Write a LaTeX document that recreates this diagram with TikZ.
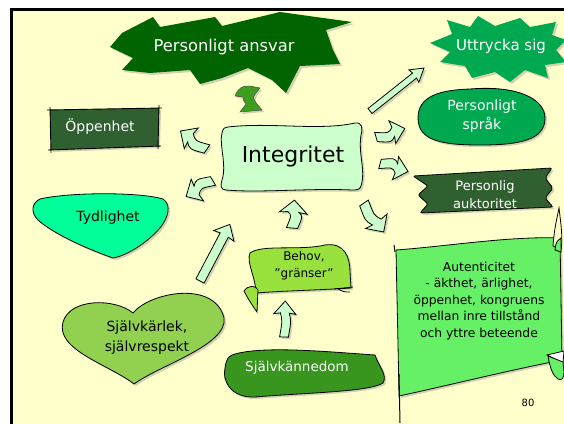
\documentclass[tikz,border=0pt]{standalone}
\usepackage{fontspec}
\setmainfont{DejaVu Sans}
\usetikzlibrary{shadows,arrows.meta}
\definecolor{slideBg}{RGB}{255,255,204}
\definecolor{ansvarGreen}{RGB}{0,100,0}
\definecolor{mossGreen}{RGB}{48,96,48}
\definecolor{jadeGreen}{RGB}{0,168,80}
\definecolor{mintFill}{RGB}{204,255,204}
\definecolor{springGreen}{RGB}{0,255,153}
\definecolor{heartGreen}{RGB}{146,208,80}
\definecolor{limeGreen}{RGB}{153,226,62}
\definecolor{grassGreen}{RGB}{56,150,30}
\definecolor{flagGreen}{RGB}{102,240,102}
\definecolor{cycleGreen}{RGB}{60,160,30}

\begin{document}
\begin{tikzpicture}[x=1pt,y=-1pt,
  shade35/.style={drop shadow={opacity=0.35,shadow xshift=2pt,shadow yshift=-2pt}},
  blob/.style={draw=black,line width=0.8pt,shade35},
  lbl/.style 2 args={align=center,inner sep=0pt,font=\fontsize{#1}{#2}\selectfont},
  arrowshape/.style={fill=mintFill,draw=black,line width=0.8pt,shade35},
  pics/blockarr/.style 2 args={code={
    \path[arrowshape] (0,-4) .. controls ({0.45*#1},{-4+(#2)}) .. ({#1-12},-4) -- ({#1-13},-10) -- (#1,0)
      -- ({#1-13},10) -- ({#1-12},4) .. controls ({0.45*#1},{4+(#2)}) .. (0,4) -- cycle;
  }}]
\clip (0,0) rectangle (564,423);
\fill[white] (0,0) rectangle (564,423);
\draw[line width=3pt,fill=slideBg] (11.5,9.5) rectangle (620,470);

% Personligt ansvar - stjärna överst
\path[fill=ansvarGreen,shade35] (110,47) -- (122,33) -- (153,17) -- (160,27) -- (215,17) -- (222,26) -- (280,12)
  -- (352,22) -- (326,30) -- (333,50) -- (340,64) -- (300,66) -- (286,93) -- (272,80) -- (248,68) -- (222,78)
  -- (200,84) -- (190,70) -- (150,73) -- (122,70) -- (133,58) -- cycle;
\node[lbl={16.3}{19},text=white] (ansvar) at (224,47) {Personligt ansvar};
\path[fill=cycleGreen,draw=black!70,line width=0.5pt,shade35] (235,96) .. controls (238,88) and (243,85) .. (250,86) -- (260,88)
  -- (255,94) .. controls (253,98) .. (256,103) -- (262,110) -- (240,112) -- (246,104) .. controls (243,100) .. (243,97) -- cycle;

% Öppenhet
\fill[mossGreen,shade35] (50,110) -- (159,108) -- (158,146) -- (51,150) -- cycle;
\draw[line width=0.9pt] (47,110) -- (162,108) (50,107) -- (51,153) (159,105) -- (158,149) (48,150) -- (161,146);
\node[lbl={14}{16},text=white] (oppen) at (100,127) {Öppenhet};

% Integritet - mitten
\path[blob,fill=mintFill] (228,127) .. controls (270,122) and (320,131) .. (355,123) .. controls (362,122) and (363,128) .. (361,135)
  .. controls (358,155) and (366,170) .. (361,186) .. controls (360,190) and (356,190) .. (352,190)
  .. controls (310,188) and (260,193) .. (226,190) .. controls (221,190) and (220,186) .. (222,180)
  .. controls (227,165) and (219,145) .. (222,133) .. controls (223,128) and (225,127) .. (228,127) -- cycle;
\node[lbl={22}{26}] (integ) at (293,156) {Integritet};

% Uttrycka sig
\path[fill=jadeGreen,shade35] (430,43) -- (452,34) -- (447,20) -- (470,27) -- (478,16) -- (495,26) -- (520,18) -- (530,27)
  -- (556,22) -- (552,35) -- (566,40) -- (556,50) -- (566,62) -- (545,65) -- (548,78) -- (525,70) -- (510,82)
  -- (495,72) -- (472,78) -- (465,66) -- (440,62) -- (450,52) -- cycle;
\node[lbl={15}{18},text=white] (uttr) at (501,46) {Uttrycka sig};

% Personligt språk
\path[blob,fill=jadeGreen] (470,89) .. controls (520,85) and (545,100) .. (545,118) .. controls (545,140) and (520,145) .. (480,145)
  .. controls (440,145) and (418,140) .. (418,118) .. controls (418,96) and (440,90) .. (470,89) -- cycle;
\node[lbl={14}{19},text=white] (sprak) at (482,116) {Personligt\\språk};

% Personlig auktoritet
\path[blob,fill=mossGreen,rounded corners=2pt] (413,176) -- (552,168) -- (545,178) -- (553,188) -- (545,198) -- (553,207)
  -- (420,213) -- (428,204) -- (418,195) -- (428,186) -- cycle;
\node[lbl={13}{18},text=white] (auktor) at (485,195) {Personlig\\auktoritet};

% Tydlighet
\path[blob,fill=springGreen] (40,199) .. controls (70,192) and (140,192) .. (163,199) .. controls (172,205) and (168,218) .. (160,228)
  .. controls (145,245) and (125,256) .. (113,258) .. controls (90,250) and (55,235) .. (38,220)
  .. controls (30,212) and (32,203) .. (40,199) -- cycle;
\node[lbl={14}{16}] (tydl) at (108,218) {Tydlighet};

% Självkärlek - hjärta
\path[blob,fill=heartGreen] (133,313) .. controls (150,292) and (215,280) .. (224,318) .. controls (228,345) and (160,365) .. (134,384)
  .. controls (110,365) and (55,350) .. (63,322) .. controls (70,298) and (115,298) .. (133,313) -- cycle;
\node[lbl={14}{20}] (karlek) at (147,338) {Självkärlek,\\självrespekt};

% Behov - rulle
\path[blob,fill=limeGreen] (250,253) .. controls (262,244) and (300,251) .. (325,245) .. controls (345,242) and (350,258) .. (350,272)
  -- (351,288) .. controls (320,290) and (280,291) .. (256,293) .. controls (256,278) and (246,262) .. (250,253) -- cycle;
\path[draw=black,line width=0.8pt,fill=limeGreen] (244,291) .. controls (248,285) and (256,285) .. (258,290) -- (257,312)
  .. controls (252,305) and (247,297) .. (244,291) -- cycle;
\draw[line width=0.8pt] (334,289) -- (353,287) (338,289) .. controls (344,292) .. (350,292);
\node[lbl={12}{17}] (behov) at (304,266) {Behov,\\"gränser"};

% Självkännedom
\path[blob,fill=grassGreen] (232,355) .. controls (260,345) and (330,352) .. (375,355) .. controls (378,365) and (388,375) .. (383,383)
  .. controls (370,392) and (300,393) .. (255,397) .. controls (230,398) and (222,380) .. (225,368)
  .. controls (226,360) and (228,357) .. (232,355) -- cycle;
\node[lbl={13.5}{16},text=white] (kannedom) at (297,368) {Självkännedom};

% Autenticitet - flagga
\path[blob,fill=flagGreen] (396,250) .. controls (450,246) and (510,236) .. (560,238) -- (562,360)
  .. controls (510,370) and (450,385) .. (399,396) .. controls (398,340) and (397,300) .. (396,250) -- cycle;
\path[draw=black,line width=0.8pt,fill=slideBg] (553,246) .. controls (554,230) and (557,218) .. (559,208)
  .. controls (561,225) and (563,238) .. (561,250) -- cycle;
\path[draw=black,line width=0.8pt,fill=flagGreen] (555,250) .. controls (556,242) .. (561,238) -- (561,252) -- cycle;
\path[draw=black,line width=0.8pt,fill=white] (547,355) -- (564,351) -- (563,363) -- cycle;
\path[draw=black,line width=0.8pt,fill=flagGreen] (548,356) .. controls (550,368) and (553,376) .. (558,379)
  .. controls (562,381) and (564,378) .. (564,372) -- (563,362) -- cycle;
\draw[line width=1pt] (395,252) -- (394,245) (399,374) -- (400,423);
\node[lbl={12.3}{16.5}] (autent) at (479,301) {Autenticitet\\- äkthet, ärlighet,\\öppenhet, kongruens\\mellan inre tillstånd\\och yttre beteende};

% Pilar
\pic[rotate=38.5,yscale=0.8] at (370,111) {blockarr={69}{0}};
\pic[rotate=62.2,yscale=1.15] at (200,281) {blockarr={64}{0}};
\pic[rotate=88,yscale=1.1] at (284,337) {blockarr={36}{2}};
\pic[rotate=85,yscale=1.4] at (292,228) {blockarr={28}{3}};
\pic[rotate=-55.8,yscale=1.3] at (364,203) {blockarr={35}{3}};
\pic[rotate=145.8,yscale=1.25] at (207,149) {blockarr={32}{-4}};
\pic[rotate=210,yscale=1.25] at (213,181) {blockarr={31}{4}};
\pic[rotate=16.5,yscale=1.2] at (376,137) {blockarr={30}{4}};
\pic[rotate=-15,yscale=1.2] at (380,164) {blockarr={29}{-4}};

% Sidnummer
\node[lbl={10}{12}] (sidnr) at (528,403) {80};
\end{tikzpicture}
\end{document}
